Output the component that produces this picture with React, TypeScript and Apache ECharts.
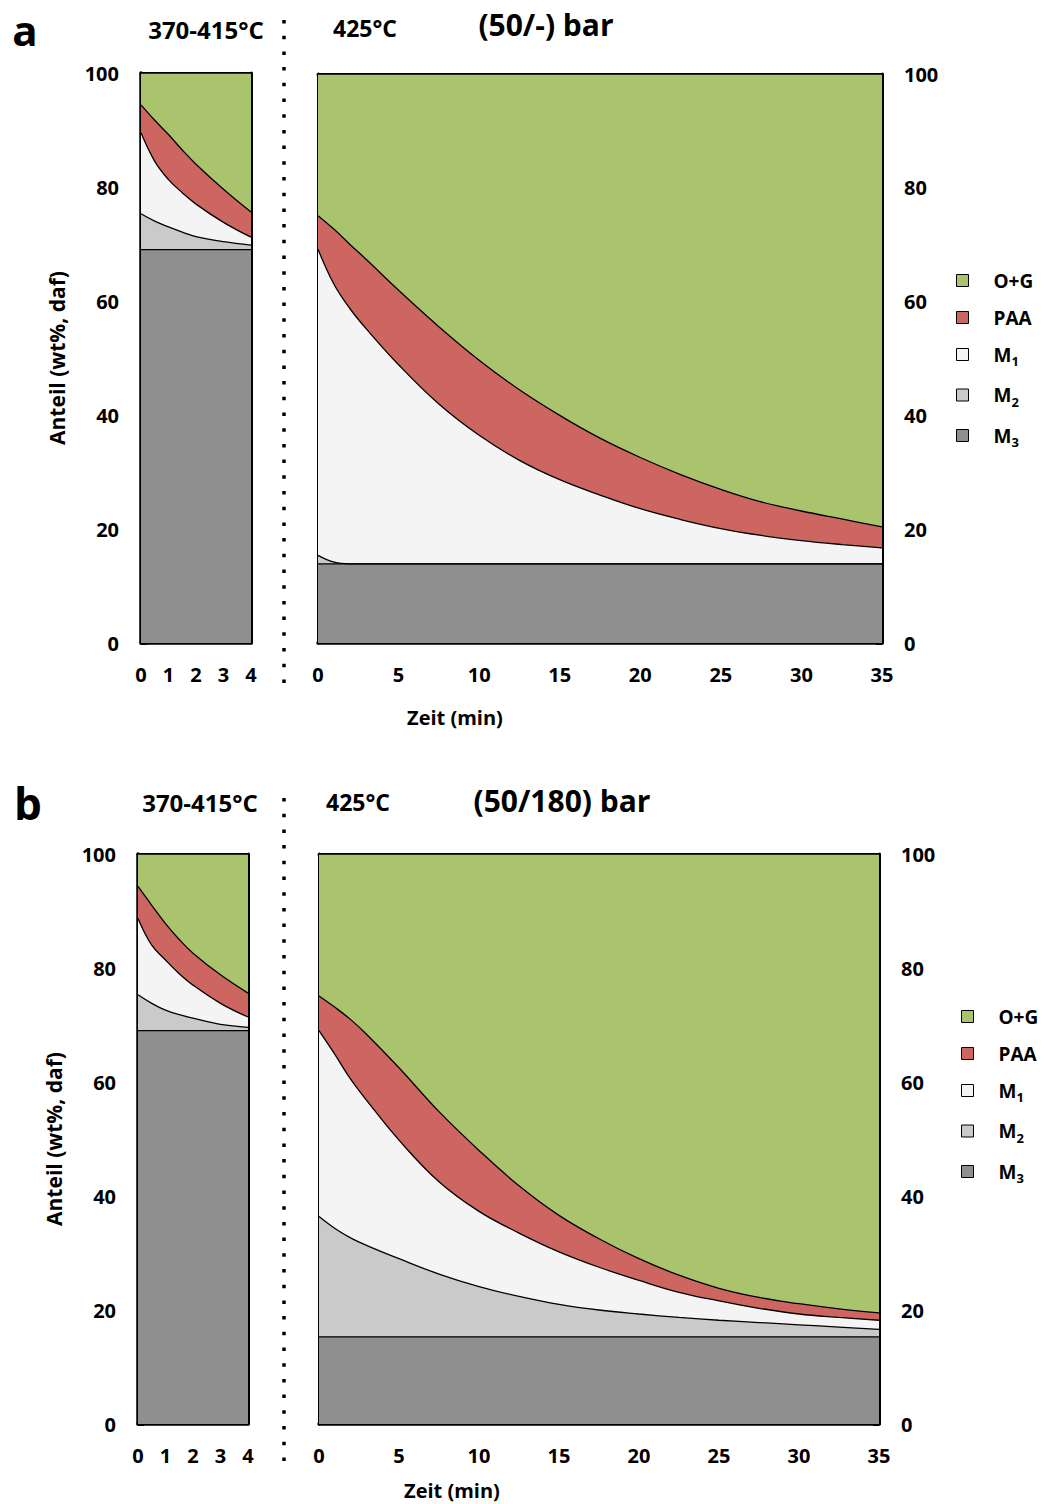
import React, { useEffect, useRef } from "react";
import * as echarts from "echarts";

const FONT = '"Open Sans", "Noto Sans", sans-serif';

const SERIES_NAMES = ["O+G", "PAA", "M1", "M2", "M3"];
const FILLS = ["#A9C46C", "#CD6660", "#F4F4F4", "#CACACA", "#8F8F8F"];

// time grids (min)
const tShort = [0, 0.5, 1, 1.5, 2, 3, 4];
const tLong = [0, 1, 2, 3, 5, 7.5, 10, 12.5, 15, 17.5, 20, 22.5, 25, 27.5, 30, 32.5, 35];

// Panel a, 370-415°C (upper boundary of each stacked fraction, wt%)
const aShortOG = [100, 100, 100, 100, 100, 100, 100];
const aShortPAA = [94.4, 91.7, 89.2, 86.5, 84.0, 79.6, 75.6];
const aShortM1 = [89.5, 84.5, 81.3, 79.0, 77.0, 73.8, 71.2];
const aShortM2 = [75.3, 74.0, 73.0, 72.1, 71.3, 70.4, 69.8];
const aShortM3 = [69, 69, 69, 69, 69, 69, 69];

// Panel a, 425°C
const aLongOG = [100, 100, 100, 100, 100, 100, 100, 100, 100, 100, 100, 100, 100, 100, 100, 100, 100];
const aLongPAA = [75.1, 72.7, 70.0, 67.4, 62.0, 55.6, 49.7, 44.5, 40.0, 36.0, 32.6, 29.6, 27.0, 24.8, 23.2, 21.8, 20.4];
const aLongM1 = [69.2, 63.0, 58.7, 55.2, 48.9, 42.0, 36.5, 32.1, 28.7, 26.0, 23.6, 21.7, 20.1, 18.9, 18.0, 17.3, 16.7];
const aLongM2 = [15.4, 14.2, 13.9, 13.9, 13.9, 13.9, 13.9, 13.9, 13.9, 13.9, 13.9, 13.9, 13.9, 13.9, 13.9, 13.9, 13.9];
const aLongM3 = [13.9, 13.9, 13.9, 13.9, 13.9, 13.9, 13.9, 13.9, 13.9, 13.9, 13.9, 13.9, 13.9, 13.9, 13.9, 13.9, 13.9];

// Panel b, 370-415°C
const bShortOG = [100, 100, 100, 100, 100, 100, 100];
const bShortPAA = [94.3, 91.0, 87.8, 85.0, 82.6, 78.8, 75.6];
const bShortM1 = [88.7, 84.0, 81.4, 79.0, 77.0, 73.8, 71.4];
const bShortM2 = [75.3, 73.8, 72.6, 71.8, 71.2, 70.1, 69.6];
const bShortM3 = [69, 69, 69, 69, 69, 69, 69];

// Panel b, 425°C
const bLongOG = [100, 100, 100, 100, 100, 100, 100, 100, 100, 100, 100, 100, 100, 100, 100, 100, 100];
const bLongPAA = [75.1, 73.1, 70.9, 68.3, 62.5, 54.8, 48.0, 41.8, 36.6, 32.5, 29.0, 26.1, 23.8, 22.2, 21.1, 20.2, 19.5];
const bLongM1 = [69.0, 64.8, 60.4, 56.7, 49.8, 42.5, 37.3, 33.5, 30.2, 27.5, 25.2, 23.1, 21.6, 20.3, 19.3, 18.7, 18.2];
const bLongM2 = [36.4, 34.3, 32.6, 31.3, 29.0, 26.3, 24.1, 22.4, 21.0, 20.0, 19.3, 18.7, 18.2, 17.8, 17.4, 17.0, 16.6];
const bLongM3 = [15.3, 15.3, 15.3, 15.3, 15.3, 15.3, 15.3, 15.3, 15.3, 15.3, 15.3, 15.3, 15.3, 15.3, 15.3, 15.3, 15.3];

const xTicksShort = { min: 0, max: 4, interval: 1 };
const xTicksLong = { min: 0, max: 35, interval: 5 };

const AXIS_NAME_Y = "Anteil (wt%, daf)";
const AXIS_NAME_X = "Zeit (min)";

export default function App() {
  const ref = useRef<HTMLDivElement>(null);

  useEffect(() => {
    if (!ref.current) return;
    const chart = echarts.init(ref.current, undefined, { renderer: "svg" });

    const grids = [
      { left: 141, top: 73, width: 110, height: 570 },
      { left: 318, top: 74, width: 564, height: 569 },
      { left: 138, top: 854, width: 110, height: 570 },
      { left: 319, top: 854, width: 560, height: 570 },
    ];

    const labelStyle = { color: "#000", fontWeight: "bold", fontSize: 20, fontFamily: FONT };
    const lineStyle = { color: "#000", width: 3 };

    const xAxes: any[] = [];
    const yAxes: any[] = [];
    const panels = [
      { sc: xTicksShort, yLabelsLeft: true, yLabelsRight: false, yTick: 10, name: true },
      { sc: xTicksLong, yLabelsLeft: false, yLabelsRight: true, yTick: 10, name: false },
      { sc: xTicksShort, yLabelsLeft: true, yLabelsRight: false, yTick: 10, name: true },
      { sc: xTicksLong, yLabelsLeft: false, yLabelsRight: true, yTick: 20, name: false },
    ];
    panels.forEach((p, gi) => {
      xAxes.push({
        type: "value", gridIndex: gi, position: "bottom",
        min: p.sc.min, max: p.sc.max, interval: p.sc.interval,
        axisLine: { show: true, onZero: false, lineStyle: { ...lineStyle, width: 3.5 } },
        axisTick: { show: true, inside: true, length: 6, lineStyle: { color: "#000", width: 3 } },
        axisLabel: { show: true, margin: 21, ...labelStyle },
        splitLine: { show: false },
      });
      xAxes.push({
        type: "value", gridIndex: gi, position: "top",
        min: p.sc.min, max: p.sc.max, interval: p.sc.interval,
        axisLine: { show: true, onZero: false, lineStyle },
        axisTick: { show: false }, axisLabel: { show: false }, splitLine: { show: false },
      });
      yAxes.push({
        type: "value", gridIndex: gi, position: "left",
        min: 0, max: 100, interval: p.yLabelsLeft ? p.yTick : 20,
        axisLine: { show: true, onZero: false, lineStyle: { ...lineStyle, width: p.yLabelsLeft ? 3.5 : 3 } },
        axisTick: { show: p.yLabelsLeft, inside: true, length: 6, lineStyle: { color: "#000", width: 3 } },
        axisLabel: {
          show: p.yLabelsLeft, margin: 22, ...labelStyle,
          formatter: (v: number) => (v % 20 === 0 ? String(v) : ""),
        },
        splitLine: { show: false },
        name: p.name ? AXIS_NAME_Y : "",
        nameLocation: "middle", nameGap: 74, nameRotate: 90,
        nameTextStyle: { ...labelStyle, fontSize: 21 },
      });
      yAxes.push({
        type: "value", gridIndex: gi, position: "right",
        min: 0, max: 100, interval: p.yLabelsRight ? p.yTick : 20,
        axisLine: { show: true, onZero: false, lineStyle },
        axisTick: { show: p.yLabelsRight, inside: true, length: 6, lineStyle: { color: "#000", width: 3 } },
        axisLabel: {
          show: p.yLabelsRight, margin: 22, ...labelStyle,
          formatter: (v: number) => (v % 20 === 0 ? String(v) : ""),
        },
        splitLine: { show: false },
      });
    });

    const sets = [
      { t: tShort, vals: [aShortOG, aShortPAA, aShortM1, aShortM2, aShortM3] },
      { t: tLong, vals: [aLongOG, aLongPAA, aLongM1, aLongM2, aLongM3] },
      { t: tShort, vals: [bShortOG, bShortPAA, bShortM1, bShortM2, bShortM3] },
      { t: tLong, vals: [bLongOG, bLongPAA, bLongM1, bLongM2, bLongM3] },
    ];

    const series: any[] = [];
    sets.forEach((s, gi) => {
      s.vals.forEach((arr, k) => {
        series.push({
          type: "line",
          name: SERIES_NAMES[k],
          xAxisIndex: gi * 2,
          yAxisIndex: gi * 2,
          data: s.t.map((t, i) => [t, arr[i]]),
          smooth: 0.4,
          symbol: "none",
          silent: true,
          z: 2,
          itemStyle: { color: FILLS[k] },
          lineStyle: { color: "#000", width: 1.3 },
          areaStyle: { color: FILLS[k], opacity: 1, origin: "start" },
        });
      });
    });

    const legendData = SERIES_NAMES.map((n, k) => ({
      name: n,
      icon: "rect",
      itemStyle: { color: FILLS[k], borderColor: "#000", borderWidth: 1 },
    }));
    const legendFormatter = (name: string) =>
      name.startsWith("M") ? `{m|M}{s|${name.slice(1)}}` : `{m|${name}}`;
    const legendText = {
      color: "#000",
      fontFamily: FONT,
      fontWeight: "bold",
      padding: [0, 0, 0, 20],
      rich: {
        m: { fontSize: 19, fontWeight: "bold", fontFamily: FONT, color: "#000", lineHeight: 26 },
        s: { fontSize: 13, fontWeight: "bold", fontFamily: FONT, color: "#000", lineHeight: 14, verticalAlign: "bottom" },
      },
    };
    const legends = [
      { left: 956, top: 271 },
      { left: 961, top: 1007 },
    ].map((pos) => ({
      ...pos,
      orient: "vertical",
      padding: 0,
      itemWidth: 12,
      itemHeight: 12,
      itemGap: 18,
      selectedMode: false,
      data: legendData,
      formatter: legendFormatter,
      textStyle: legendText,
    }));

    const txt = (text: string, x: number, y: number, size: number, align = "center") => ({
      type: "text",
      z: 100,
      style: {
        text, x, y,
        fill: "#000",
        font: `bold ${size}px ${FONT}`,
        textAlign: align,
        textVerticalAlign: "middle",
      },
    });
    const dots = (y1: number, y2: number) => ({
      type: "line",
      z: 100,
      shape: { x1: 284, y1, x2: 284, y2 },
      style: { stroke: "#000", lineWidth: 3.5, lineDash: [3.5, 12.2] },
    });

    chart.setOption({
      animation: false,
      grid: grids.map((g) => ({ ...g, containLabel: false })),
      xAxis: xAxes,
      yAxis: yAxes,
      legend: legends,
      series,
      graphic: [
        txt("a", 25, 29, 42),
        txt("370-415°C", 206, 29, 24),
        txt("425°C", 365, 28, 23),
        txt("(50/-) bar", 546, 24, 30),
        txt(AXIS_NAME_X, 455, 717, 20),
        dots(20, 690),
        txt("b", 28, 803, 44),
        txt("370-415°C", 200, 802, 24),
        txt("425°C", 358, 802, 23),
        txt("(50/180) bar", 562, 800, 30),
        txt(AXIS_NAME_X, 452, 1490, 20),
        dots(798, 1470),
      ],
    });

    return () => chart.dispose();
  }, []);

  return (
    <div
      ref={ref}
      style={{ position: "absolute", left: 0, top: 0, width: 1045, height: 1504, background: "#fff" }}
    />
  );
}
